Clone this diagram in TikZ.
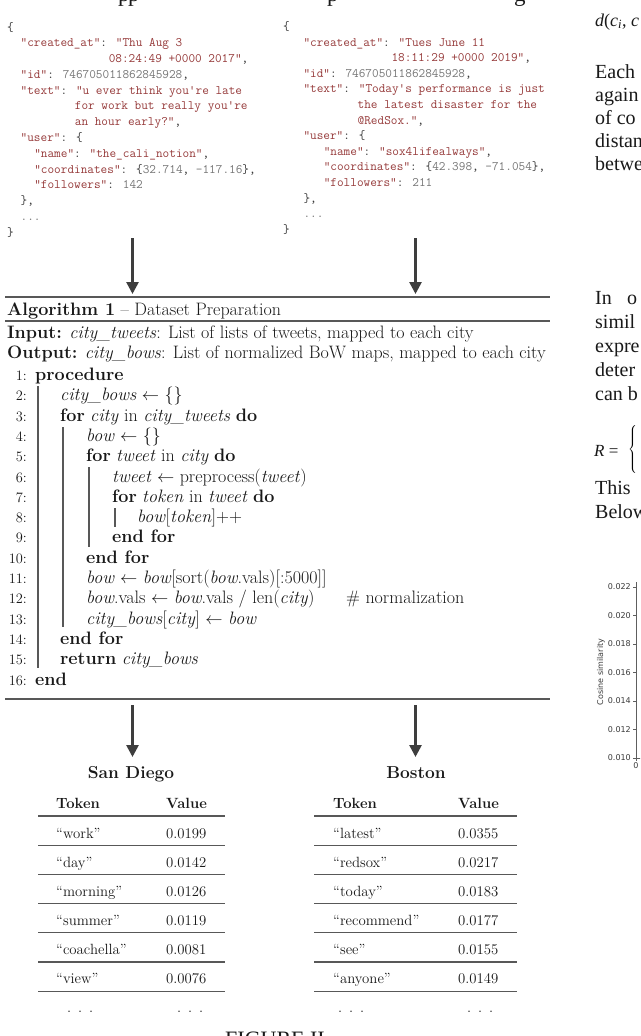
\documentclass[tikz,border=0pt]{standalone}
\usepackage{fontspec}
\newfontfamily\timesf{Liberation Serif}
\newfontfamily\sansf{DejaVu Sans}
\usetikzlibrary{arrows.meta}
\definecolor{jkey}{RGB}{150,58,58}
\definecolor{jnum}{RGB}{118,118,118}
\definecolor{jpun}{RGB}{55,55,55}
\definecolor{rulec}{RGB}{88,88,88}
\definecolor{arrc}{RGB}{62,62,62}
\definecolor{ink}{RGB}{25,25,25}
\newcommand{\jk}[1]{\textcolor{jkey}{#1}}
\newcommand{\jn}[1]{\textcolor{jnum}{#1}}
\newcommand{\asg}{\ensuremath{\leftarrow}}
\newcommand{\tdots}{.\hspace{7pt}.\hspace{7pt}.}
\begin{document}
\begin{tikzpicture}[x=1pt,y=-1pt,
  jl/.style={anchor=base west,inner sep=0pt,font=\fontsize{12.9}{15}\selectfont\ttfamily,text=jpun},
  al/.style={anchor=base west,inner sep=0pt,font=\fontsize{18}{20}\selectfont,text=ink},
  an/.style={anchor=base east,inner sep=0pt,font=\fontsize{14.4}{16}\selectfont,text=ink},
  tc/.style={anchor=base west,inner sep=0pt,font=\fontsize{14.8}{17}\selectfont,text=ink},
  tabtitle/.style={anchor=base,inner sep=0pt,font=\fontsize{17.3}{20}\selectfont\bfseries,text=ink},
  rc/.style={anchor=base west,inner sep=0pt,font=\fontsize{20}{24}\timesf,text=ink},
  flow/.style={draw=arrc,line width=2.6pt,-{Triangle[length=12pt,width=12pt]}},
  thickrule/.style={draw=rulec,line width=2pt},
  thinrule/.style={draw=rulec,line width=1.1pt},
  trule/.style={draw=rulec,line width=1.1pt},
  vbar/.style={draw=rulec,line width=1.1pt},
  ticklab/.style={anchor=east,inner sep=0pt,font=\fontsize{8}{9}\sansf,text=ink!85},
  axisln/.style={draw=ink!70,line width=0.8pt}
]
\fill[white] (0,0) rectangle (640,1036);
\useasboundingbox (0,0) rectangle (640,1036);
\clip (0,0) rectangle (640,1036);

% --- cut-off text line at the very top (descenders only)
\node[rc,font=\fontsize{23}{24}\timesf] (top1) at (118,1.5) {p};
\node[rc,font=\fontsize{23}{24}\timesf] (top2) at (128,1.5) {p};
\node[rc,font=\fontsize{23}{24}\timesf] (top3) at (327,1.5) {p};
\node[rc,font=\fontsize{23}{24}\timesf] (top4) at (514,1.5) {g};

% --- left JSON
\node[jl] (l0) at (7,31) {\{};
\node[jl] (l1) at (20.5,46.8) {\jk{"created\_at"}: \jk{"Thu Aug 3}};
\node[jl] (l2) at (108.6,62.6) {\jk{08:24:49 +0000 2017"},};
\node[jl] (l3) at (20.5,78.3) {\jk{"id"}: \jn{746705011862845928},};
\node[jl] (l4) at (20.5,94.1) {\jk{"text"}: \jk{"u ever think you're late}};
\node[jl] (l5) at (74.7,109.9) {\jk{for work but really you're}};
\node[jl] (l6) at (74.7,125.7) {\jk{an hour early?"},};
\node[jl] (l7) at (20.5,141.5) {\jk{"user"}: \{};
\node[jl] (l8) at (34.1,157.2) {\jk{"name"}: \jk{"the\_cali\_notion"},};
\node[jl] (l9) at (34.1,173) {\jk{"coordinates"}: \{\jn{32.714}, \jn{-117.16}\},};
\node[jl] (l10) at (34.1,188.8) {\jk{"followers"}: \jn{142}};
\node[jl] (l11) at (20.5,204.6) {\},};
\node[jl] (l12) at (20.5,220.4) {\jn{...}};
\node[jl] (l13) at (7,236.1) {\}};

% --- right JSON
\node[jl] (r0) at (283,30.5) {\{};
\node[jl] (r1) at (303.3,46.1) {\jk{"created\_at"}: \jk{"Tues June 11}};
\node[jl] (r2) at (391.3,61.7) {\jk{18:11:29 +0000 2019"},};
\node[jl] (r3) at (303.3,77.3) {\jk{"id"}: \jn{746705011862845928},};
\node[jl] (r4) at (303.3,92.9) {\jk{"text"}: \jk{"Today's performance is just}};
\node[jl] (r5) at (357.5,108.5) {\jk{the latest disaster for the}};
\node[jl] (r6) at (357.5,124.1) {\jk{@RedSox."},};
\node[jl] (r7) at (303.3,139.7) {\jk{"user"}: \{};
\node[jl] (r8) at (323.6,155.3) {\jk{"name"}: \jk{"sox4lifealways"},};
\node[jl] (r9) at (323.6,170.9) {\jk{"coordinates"}: \{\jn{42.398}, \jn{-71.054}\},};
\node[jl] (r10) at (323.6,186.5) {\jk{"followers"}: \jn{211}};
\node[jl] (r11) at (303.3,202.1) {\},};
\node[jl] (r12) at (303.3,217.7) {\jn{...}};
\node[jl] (r13) at (283,233.3) {\}};

% --- arrows into algorithm
\coordinate (jL) at (132.5,238);
\coordinate (aL) at (132.5,294);
\coordinate (jR) at (415.5,238);
\coordinate (aR) at (415.5,294);
\draw[flow] (jL) -- (aL);
\draw[flow] (jR) -- (aR);

% --- algorithm box
\draw[thickrule] (5,297) -- (550,297);
\draw[thinrule] (5,321) -- (550,321);
\draw[thickrule] (5,699) -- (550,699);
\node[al] (atitle) at (7,315) {\textbf{Algorithm 1} – Dataset Preparation};
\node[al] (ain) at (7,338) {\textbf{Input:} \textit{city\_tweets}: List of lists of tweets, mapped to each city};
\node[al] (aout) at (7,358) {\textbf{Output:} \textit{city\_bows}: List of normalized BoW maps, mapped to each city};

\node[an] (n1) at (27,380.5) {1:};
\node[an] (n2) at (27,400.8) {2:};
\node[an] (n3) at (27,421.1) {3:};
\node[an] (n4) at (27,441.4) {4:};
\node[an] (n5) at (27,461.7) {5:};
\node[an] (n6) at (27,482) {6:};
\node[an] (n7) at (27,502.3) {7:};
\node[an] (n8) at (27,522.6) {8:};
\node[an] (n9) at (27,542.9) {9:};
\node[an] (n10) at (27,563.2) {10:};
\node[an] (n11) at (27,583.5) {11:};
\node[an] (n12) at (27,603.8) {12:};
\node[an] (n13) at (27,624.1) {13:};
\node[an] (n14) at (27,644.4) {14:};
\node[an] (n15) at (27,664.7) {15:};
\node[an] (n16) at (27,685) {16:};

\node[al] (c1) at (35,380.5) {\textbf{procedure}};
\node[al] (c2) at (60,400.8) {\textit{city\_bows} \asg{} \{\}};
\node[al] (c3) at (60,421.1) {\textbf{for} \textit{city} in \textit{city\_tweets} \textbf{do}};
\node[al] (c4) at (86,441.4) {\textit{bow} \asg{} \{\}};
\node[al] (c5) at (86,461.7) {\textbf{for} \textit{tweet} in \textit{city} \textbf{do}};
\node[al] (c6) at (112,482) {\textit{tweet} \asg{} preprocess(\textit{tweet})};
\node[al] (c7) at (112,502.3) {\textbf{for} \textit{token} in \textit{tweet} \textbf{do}};
\node[al] (c8) at (137,522.6) {\textit{bow}[\textit{token}]++};
\node[al] (c9) at (112,542.9) {\textbf{end for}};
\node[al] (c10) at (86,563.2) {\textbf{end for}};
\node[al] (c11) at (86,583.5) {\textit{bow} \asg{} \textit{bow}[sort(\textit{bow}.vals)[:5000]]};
\node[al] (c12) at (86,603.8) {\textit{bow}.vals \asg{} \textit{bow}.vals / len(\textit{city})};
\node[al] (c12b) at (346,603.8) {\# normalization};
\node[al] (c13) at (86,624.1) {\textit{city\_bows}[\textit{city}] \asg{} \textit{bow}};
\node[al] (c14) at (60,644.4) {\textbf{end for}};
\node[al] (c15) at (60,664.7) {\textbf{return} \textit{city\_bows}};
\node[al] (c16) at (35,685) {\textbf{end}};

\draw[vbar] (38,386) -- (38,668);
\draw[vbar] (63,427) -- (63,627);
\draw[vbar] (89,467) -- (89,547);
\draw[vbar] (115,508) -- (115,527);

% --- arrows out of algorithm
\coordinate (oL) at (132.5,705);
\coordinate (tL) at (132.5,757);
\coordinate (oR) at (415.5,705);
\coordinate (tR) at (415.5,757);
\draw[flow] (oL) -- (tL);
\draw[flow] (oR) -- (tR);

% --- San Diego table
\node[tabtitle] (sd) at (131,778) {San Diego};
\node[tc] (sdh1) at (56,808) {\textbf{Token}};
\node[tc] (sdh2) at (166,808) {\textbf{Value}};
\foreach \yy in {816,845.2,874.4,903.6,932.8,962,991.2} {\draw[trule] (38,\yy) -- (225,\yy);}
\node[tc] (sa1) at (56,838) {“work”};
\node[tc] (sb1) at (166,838) {0.0199};
\node[tc] (sa2) at (56,867) {“day”};
\node[tc] (sb2) at (166,867) {0.0142};
\node[tc] (sa3) at (56,896) {“morning”};
\node[tc] (sb3) at (166,896) {0.0126};
\node[tc] (sa4) at (56,925) {“summer”};
\node[tc] (sb4) at (166,925) {0.0119};
\node[tc] (sa5) at (56,954) {“coachella”};
\node[tc] (sb5) at (166,954) {0.0081};
\node[tc] (sa6) at (56,983) {“view”};
\node[tc] (sb6) at (166,983) {0.0076};
\node[tc] (sa7) at (67,1012) {\tdots};
\node[tc] (sb7) at (177,1012) {\tdots};

% --- Boston table
\node[tabtitle] (bo) at (416,778) {Boston};
\node[tc] (boh1) at (333,808) {\textbf{Token}};
\node[tc] (boh2) at (458,808) {\textbf{Value}};
\foreach \yy in {816,845.2,874.4,903.6,932.8,962,991.2} {\draw[trule] (314,\yy) -- (517,\yy);}
\node[tc] (ba1) at (333,838) {“latest”};
\node[tc] (bb1) at (458,838) {0.0355};
\node[tc] (ba2) at (333,867) {“redsox”};
\node[tc] (bb2) at (458,867) {0.0217};
\node[tc] (ba3) at (333,896) {“today”};
\node[tc] (bb3) at (458,896) {0.0183};
\node[tc] (ba4) at (333,925) {“recommend”};
\node[tc] (bb4) at (458,925) {0.0177};
\node[tc] (ba5) at (333,954) {“see”};
\node[tc] (bb5) at (458,954) {0.0155};
\node[tc] (ba6) at (333,983) {“anyone”};
\node[tc] (bb6) at (458,983) {0.0149};
\node[tc] (ba7) at (338,1012) {\tdots};
\node[tc] (bb7) at (467,1012) {\tdots};

% --- caption (cut off)
\node[rc,font=\fontsize{22}{24}\timesf] (cap) at (225,1046) {FIGURE II};

% --- neighbouring page column (cut off)
\node[rc,font=\fontsize{18}{20}\timesf] (p0) at (595,26) {\itshape d\upshape(\itshape c\textsubscript{i}\upshape, \itshape c};
\node[rc] (p1) at (595,78) {Each};
\node[rc] (p2) at (595,101) {again};
\node[rc] (p3) at (595,124) {of co};
\node[rc] (p4) at (595,147) {distan};
\node[rc] (p5) at (595,170) {betwe};
\node[rc] (q1) at (595,304) {In};
\node[rc] (q1b) at (627,304) {o};
\node[rc] (q2) at (595,328) {simil};
\node[rc] (q3) at (595,352) {expre};
\node[rc] (q4) at (595,376) {deter};
\node[rc] (q5) at (595,400) {can b};
\node[rc,font=\fontsize{17}{20}\timesf] (q6) at (594,456) {\itshape R\upshape{} =};
\node[anchor=west,inner sep=0pt] (q6b) at (628,450) {$\left\{\vrule height 22pt depth 22pt width 0pt\right.$};
\node[rc] (q7) at (595,494) {This};
\node[rc] (q8) at (595,518) {Below};

% --- chart fragment
\draw[axisln] (636,582) -- (636,758) -- (641,758);
\foreach \yy/\lab in {587/0.022,615.5/0.020,644/0.018,672.5/0.016,701/0.014,729.5/0.012,758/0.010}
  {\draw[axisln] (633,\yy) -- (636,\yy); \node[ticklab] at (631,\yy) {\lab};}
\draw[axisln] (636,758) -- (636,761);
\node[ticklab,anchor=north] (x0) at (636,762) {0};
\node[inner sep=0pt,rotate=90,font=\fontsize{8}{9}\sansf,text=ink!85] (ylab) at (601,672) {Cosine similarity};
\end{tikzpicture}
\end{document}
